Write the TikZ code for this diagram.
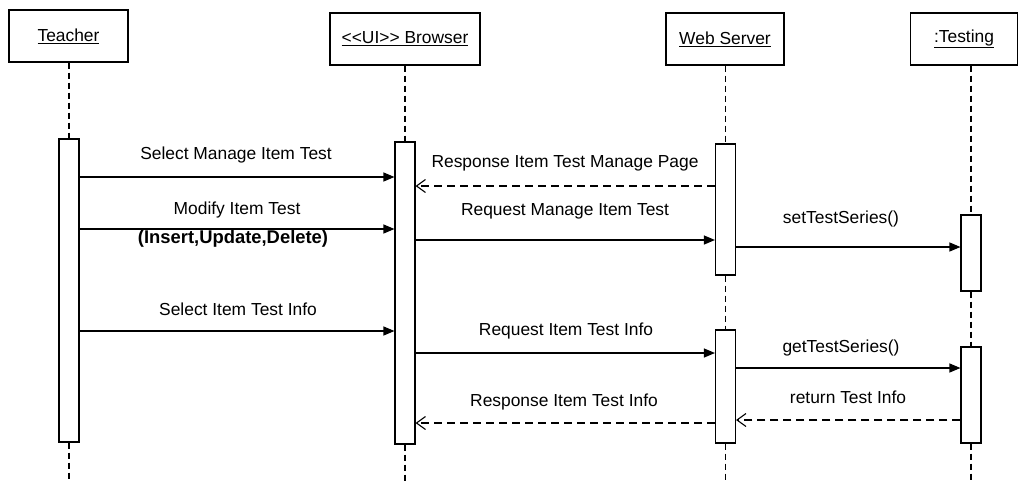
\documentclass[tikz,border=0pt]{standalone}
\usepackage{fontspec}
\setmainfont[Ligatures=TeXOff]{Liberation Sans}
\usetikzlibrary{arrows.meta}
\newcommand\lblfont{\fontsize{17.4}{20}\selectfont}
\newcommand\notefont{\fontsize{18.4}{21}\selectfont\bfseries}
\begin{document}
\begin{tikzpicture}[x=1pt,y=-1pt,
  head/.style={draw, line width=1.1pt, minimum height=52pt, inner sep=0pt, font=\lblfont},
  act/.style={draw, fill=white, line width=1.1pt, minimum width=20pt, inner sep=0pt},
  life/.style={line width=1.1pt, dash pattern=on 6pt off 4pt},
  call/.style={line width=1.1pt, -{Triangle[length=11pt,width=9pt]}},
  reply/.style={line width=1.1pt, dash pattern=on 8pt off 5pt, -{Straight Barb[length=9pt,width=13pt]}},
  lbl/.style={anchor=base, inner sep=0pt, font=\lblfont}]
\useasboundingbox[fill=white] (0,0) rectangle (1019,482);

% object heads
\node[head, minimum width=119pt] (th) at (68.5,36) {\underline{Teacher}};
\node[head, minimum width=150pt] (bh) at (405,39) {\underline{<<UI>> Browser}};
\node[head, minimum width=118pt] (wh) at (725,39) {\underline{Web Server}};
\node[head, minimum width=107pt] (qh) at (964,39) {\underline{:Testing}};

% activation bars
\node[act, minimum height=303pt] (ta) at (69,290.5) {};
\node[act, minimum height=302pt] (ba) at (405,293) {};
\node[act, minimum height=131pt] (wa1) at (725.5,209.5) {};
\node[act, minimum height=113pt] (wa2) at (725.5,386.5) {};
\node[act, minimum height=76pt] (qa1) at (971,253) {};
\node[act, minimum height=96pt] (qa2) at (971,395) {};

% lifelines
\coordinate (bottom) at (0,482);
\draw[life] (ta.north |- th.south) -- (ta.north);
\draw[life] (ta.south) -- (ta.south |- bottom);
\draw[life] (ba.north |- bh.south) -- (ba.north);
\draw[life] (ba.south) -- (ba.south |- bottom);
\draw[life] (wa1.north |- wh.south) -- (wa1.north);
\draw[life] (wa1.south) -- (wa2.north);
\draw[life] (wa2.south) -- (wa2.south |- bottom);
\draw[life] (qa1.north |- qh.south) -- (qa1.north);
\draw[life] (qa1.south) -- (qa2.north);
\draw[life] (qa2.south) -- (qa2.south |- bottom);

% message levels
\coordinate (m1) at (0,177);
\coordinate (m2) at (0,186);
\coordinate (m3) at (0,229);
\coordinate (m4) at (0,240);
\coordinate (m5) at (0,247);
\coordinate (m6) at (0,331);
\coordinate (m7) at (0,353);
\coordinate (m8) at (0,368);
\coordinate (m9) at (0,420);
\coordinate (m10) at (0,423);

% messages
\draw[call]  (ta.east |- m1) -- (ba.west |- m1);
\draw[reply] (wa1.west |- m2) -- (ba.east |- m2);
\draw[call]  (ta.east |- m3) -- (ba.west |- m3);
\draw[call]  (ba.east |- m4) -- (wa1.west |- m4);
\draw[call]  (wa1.east |- m5) -- (qa1.west |- m5);
\draw[call]  (ta.east |- m6) -- (ba.west |- m6);
\draw[call]  (ba.east |- m7) -- (wa2.west |- m7);
\draw[call]  (wa2.east |- m8) -- (qa2.west |- m8);
\draw[reply] (qa2.west |- m9) -- (wa2.east |- m9);
\draw[reply] (wa2.west |- m10) -- (ba.east |- m10);

% message labels
\node[lbl] (l1) at (236,159) {Select Manage Item Test};
\node[lbl] (l2) at (565,167) {Response Item Test Manage Page};
\node[lbl] (l3) at (237,214) {Modify Item Test};
\node[lbl, font=\notefont] (l3b) at (233,243) {(Insert,Update,Delete)};
\node[lbl] (l4) at (565,215) {Request Manage Item Test};
\node[lbl] (l5) at (841,223) {setTestSeries()};
\node[lbl] (l6) at (238,315) {Select Item Test Info};
\node[lbl] (l7) at (566,335) {Request Item Test Info};
\node[lbl] (l8) at (841,352) {getTestSeries()};
\node[lbl] (l9) at (848,403) {return Test Info};
\node[lbl] (l10) at (564,406) {Response Item Test Info};
\end{tikzpicture}
\end{document}
